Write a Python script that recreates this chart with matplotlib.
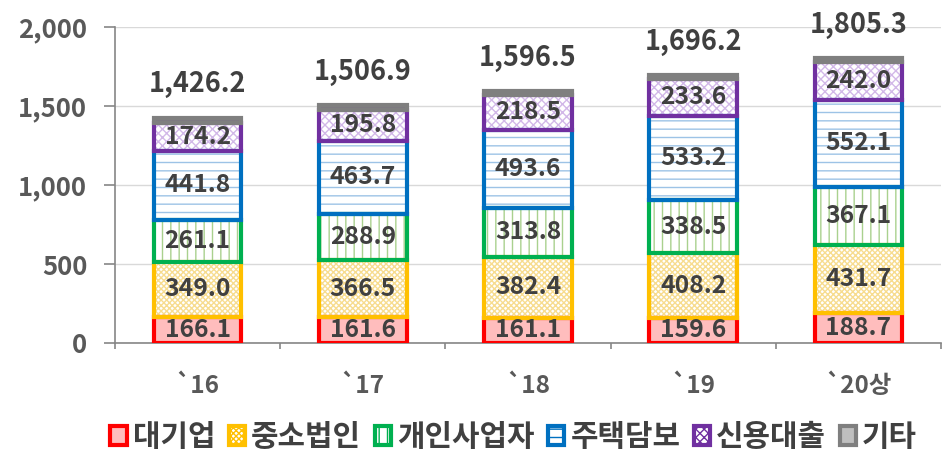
import matplotlib
matplotlib.use("Agg")
import matplotlib.pyplot as plt
from matplotlib.patches import Patch
import numpy as np

plt.rcParams['font.family'] = ['Noto Sans CJK KR', 'DejaVu Sans']
plt.rcParams['hatch.linewidth'] = 1.0

categories = ["`16", "`17", "`18", "`19", "`20상"]
series_names = ["대기업", "중소법인", "개인사업자", "주택담보", "신용대출", "기타"]
large_corp = [166.1, 161.6, 161.1, 159.6, 188.7]
sme_corp = [349.0, 366.5, 382.4, 408.2, 431.7]
sole_prop = [261.1, 288.9, 313.8, 338.5, 367.1]
mortgage = [441.8, 463.7, 493.6, 533.2, 552.1]
credit = [174.2, 195.8, 218.5, 233.6, 242.0]
other = [34.0, 30.4, 27.1, 23.1, 23.7]
totals = [1426.2, 1506.9, 1596.5, 1696.2, 1805.3]

series = [large_corp, sme_corp, sole_prop, mortgage, credit, other]
edge_colors = ["#FF0000", "#FFC000", "#00B050", "#0070C0", "#7030A0", "#7F7F7F"]
face_colors = ["#FFBDBD", "#FFFFFF", "#FFFFFF", "#FFFFFF", "#FFFFFF", "#7F7F7F"]
hatch_colors = [None, "#F7DC8F", "#A9D18E", "#9DC3E6", "#D2B8E8", None]
hatches = [None, "xxxxxx", "||", "--", "xxxx", None]

fig = plt.figure(figsize=(9.46, 4.54), dpi=100)
ax = fig.add_axes([0.1216, 0.2445, 0.873, 0.696])

x = np.arange(len(categories))
width = 0.53
bottom = np.zeros(len(categories))
text_color = "#404040"
W = 'heavy'
for i, vals in enumerate(series):
    vals = np.array(vals)
    ax.bar(x, vals, width, bottom=bottom, color=face_colors[i],
           edgecolor=hatch_colors[i] if hatch_colors[i] else face_colors[i],
           hatch=hatches[i], linewidth=0, zorder=2)
    ax.bar(x, vals, width, bottom=bottom, fill=False,
           edgecolor=edge_colors[i], linewidth=3, zorder=3)
    if i < 5:
        for xi, b, v in zip(x, bottom, vals):
            ax.text(xi, b + v / 2, f"{v:.1f}", ha='center', va='center',
                    fontsize=17.8, fontweight=W, color=text_color, zorder=4)
    bottom = bottom + vals

for xi, t, b in zip(x, totals, bottom):
    ax.text(xi, b + 210, f"{t:,.1f}", ha='center', va='center', fontsize=19.5,
            fontweight=W, color=text_color)

ax.set_ylim(0, 2000)
ax.set_xlim(-0.5, len(categories) - 0.5)
ax.set_yticks([0, 500, 1000, 1500, 2000])
ax.set_yticklabels([f"{v:,}" for v in [0, 500, 1000, 1500, 2000]],
                   fontsize=18.5, fontweight=W, color="#595959")
ax.set_xticks(x)
ax.set_xticklabels(categories, fontsize=17.5, fontweight=W, color="#595959")
ax.set_xticks(np.arange(len(categories) + 1) - 0.5, minor=True)
ax.tick_params(axis='x', which='major', length=0, pad=22)
ax.tick_params(axis='x', which='minor', length=4, color="#868686", width=1.2)
ax.tick_params(axis='y', length=8, color="#868686", width=1.2, pad=12)
ax.grid(axis='y', color="#D9D9D9", linewidth=1)
ax.set_axisbelow(True)
for s in ['top', 'right']:
    ax.spines[s].set_visible(False)
ax.spines['left'].set_color("#868686")
ax.spines['bottom'].set_color("#868686")
ax.spines['left'].set_linewidth(1.2)
ax.spines['bottom'].set_linewidth(1.2)

handles = []
for i in range(6):
    h = Patch(facecolor="#FFBDBD" if i == 0 else ("#FFFFFF" if hatches[i] else "#BFBFBF"),
              edgecolor=edge_colors[i], hatch=hatches[i], linewidth=3)
    handles.append(h)
leg = fig.legend(handles, series_names, loc='center', bbox_to_anchor=(0.543, 0.038),
                 ncol=6, frameon=False, handlelength=0.55, handleheight=0.6,
                 handletextpad=0.2, columnspacing=0.45,
                 prop={'family': 'Noto Sans CJK KR', 'size': 21.5, 'weight': W})
for t in leg.get_texts():
    t.set_color("#404040")

fig.savefig("out.png", dpi=100)
